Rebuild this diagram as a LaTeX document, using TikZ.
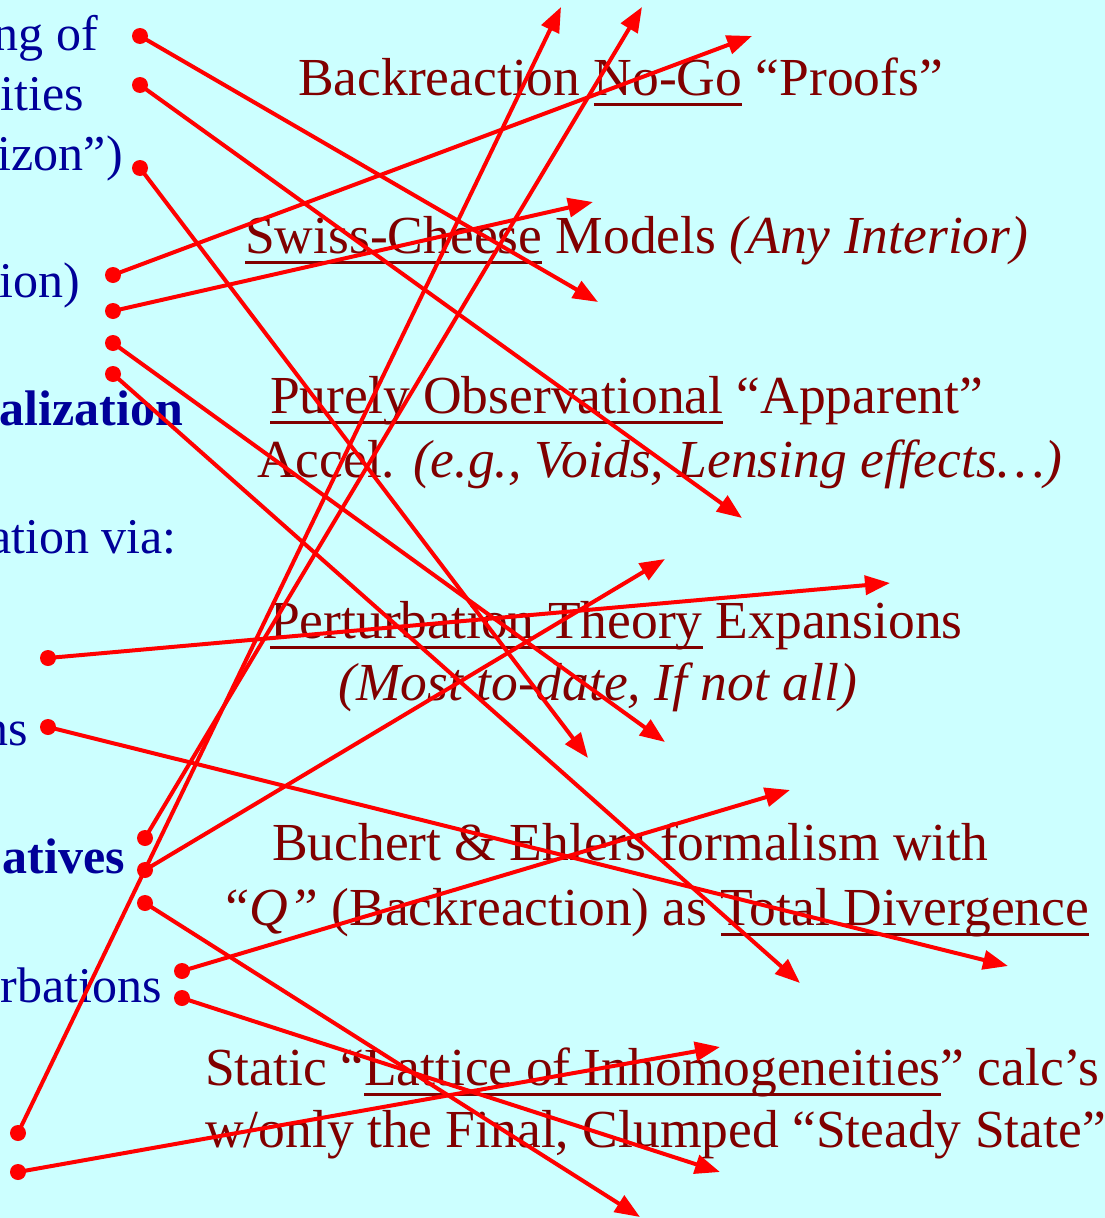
\documentclass[tikz,border=0pt]{standalone}
\usepackage{fontspec}
\setmainfont{Liberation Serif}
\usepackage{xcolor}
\usepackage{tikz}
\usetikzlibrary{arrows.meta}

\definecolor{slidebg}{HTML}{CCFFFF}
\definecolor{navyblue}{HTML}{000099}
\definecolor{darkred}{HTML}{800000}

% underline at a fixed depth
\newsavebox{\undlbox}
\newcommand{\undl}[1]{\sbox\undlbox{#1}\rlap{\usebox\undlbox}\rule[-11pt]{\wd\undlbox}{2.8pt}}

\tikzset{
  lefttxt/.style={text=navyblue, anchor=base east, inner sep=0pt, font=\fontsize{50}{60}\selectfont},
  righttxt/.style={text=darkred, anchor=base west, inner sep=0pt},
  link/.style={red, line width=4pt, -{Triangle[length=25pt,width=19pt]}},
}

\begin{document}
\begin{tikzpicture}[x=1pt, y=-1pt, font=\fontsize{53.5}{62}\selectfont]
\fill[slidebg] (0,0) rectangle (1105,1218);
\useasboundingbox (0,0) rectangle (1105,1218);

% left column (cut off)
\node[lefttxt] (l1) at (98,50) {ng of};
\node[lefttxt] (l2) at (84,110) {ities};
\node[lefttxt] (l3) at (123,170) {rizon”)};
\node[lefttxt] (l4) at (80,297) {ion)};
\node[lefttxt] (l5) at (183,425) {\bfseries alization};
\node[lefttxt] (l6) at (177,553) {ation via:};
\node[lefttxt] (l7) at (28,745) {ns};
\node[lefttxt] (l8) at (125,873) {\bfseries atives};
\node[lefttxt] (l9) at (162,1002) {rbations};

% right column
\node[righttxt] (r1) at (298,95) {Backreaction \undl{No-Go} “Proofs”};
\node[righttxt] (r2) at (245,253) {\undl{Swiss-Cheese} Models \textit{(Any Interior)}};
\node[righttxt] (r3) at (270,413) {\undl{Purely Observational} “Apparent”};
\node[righttxt] (r4) at (257,477) {Accel. \textit{(e.g., Voids, Lensing effects…)}};
\node[righttxt] (r5) at (270,638) {\undl{Perturbation Theory} Expansions};
\node[righttxt] (r6) at (338,700) {\textit{(Most to-date, If not all)}};
\node[righttxt] (r7) at (272,860) {Buchert \& Ehlers formalism with};
\node[righttxt] (r8) at (220,925) {\textit{“Q”} (Backreaction) as \undl{Total Divergence}};
\node[righttxt] (r9) at (205,1085) {Static “\undl{Lattice of Inhomogeneities}” calc’s};
\node[righttxt] (r10) at (205,1147) {w/only the Final, Clumped “Steady State”};

% dots
\coordinate (s1) at (140,36);
\coordinate (s2) at (140,85);
\coordinate (s3) at (140,168);
\coordinate (s4) at (113,275);
\coordinate (s5) at (113,311);
\coordinate (s6) at (113,343);
\coordinate (s7) at (113,374);
\coordinate (s8) at (48,658);
\coordinate (s9) at (48,727);
\coordinate (s10) at (145,838);
\coordinate (s11) at (145,870);
\coordinate (s12) at (145,903);
\coordinate (s13) at (182,971);
\coordinate (s14) at (182,998);
\coordinate (s15) at (18,1133);
\coordinate (s16) at (18,1172);

% arrow ends
\coordinate (t1) at (598,302);
\coordinate (t2) at (742,518);
\coordinate (t3) at (588,758);
\coordinate (t4) at (752,36);
\coordinate (t5) at (593,202);
\coordinate (t6) at (665,742);
\coordinate (t7) at (800,983);
\coordinate (t8) at (890,583);
\coordinate (t9) at (1008,966);
\coordinate (t10) at (642,7);
\coordinate (t11) at (665,559);
\coordinate (t12) at (640,1217);
\coordinate (t13) at (790,790);
\coordinate (t14) at (720,1172);
\coordinate (t15) at (561,7);
\coordinate (t16) at (720,1047);

\foreach \i in {1,...,16}{
  \draw[link] (s\i) -- (t\i);
  \fill[red] (s\i) circle (8pt);
}
\end{tikzpicture}
\end{document}
